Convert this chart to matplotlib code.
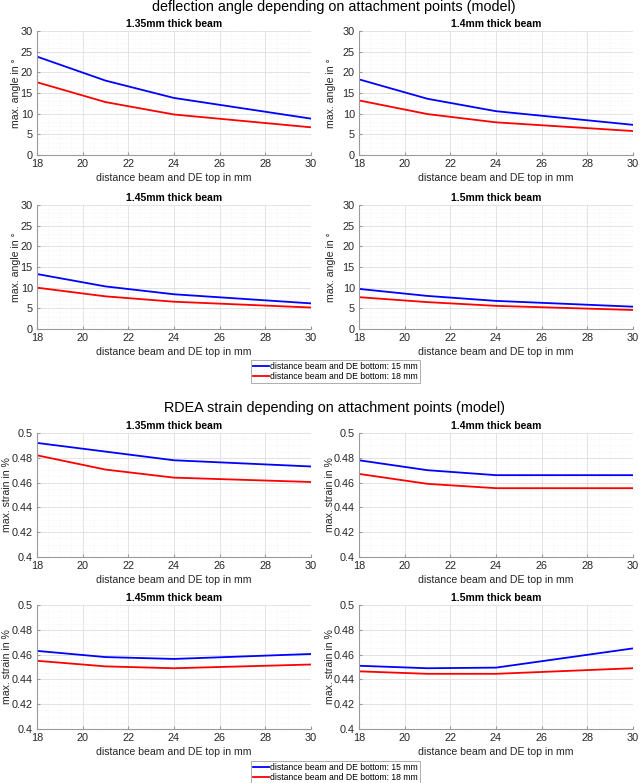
import matplotlib
matplotlib.use("Agg")
import matplotlib.pyplot as plt
from matplotlib.ticker import MultipleLocator, FuncFormatter

plt.rcParams['font.family'] = ['Liberation Sans', 'DejaVu Sans']

# data
dist_top = [18, 21, 24, 30]
beams = ['1.35mm', '1.4mm', '1.45mm', '1.5mm']

angle_15 = [
    [23.8, 18.0, 13.8, 8.8],
    [18.3, 13.6, 10.6, 7.3],
    [13.3, 10.3, 8.4, 6.2],
    [9.7, 8.0, 6.8, 5.4],
]
angle_18 = [
    [17.6, 12.8, 9.8, 6.7],
    [13.2, 9.9, 7.9, 5.8],
    [10.0, 7.9, 6.6, 5.2],
    [7.7, 6.5, 5.6, 4.6],
]
strain_15 = [
    [0.492, 0.485, 0.478, 0.473],
    [0.478, 0.470, 0.466, 0.466],
    [0.463, 0.458, 0.4565, 0.4605],
    [0.451, 0.449, 0.4495, 0.465],
]
strain_18 = [
    [0.482, 0.4705, 0.464, 0.4605],
    [0.467, 0.459, 0.4555, 0.4555],
    [0.455, 0.4505, 0.449, 0.452],
    [0.4465, 0.4445, 0.4445, 0.449],
]
legend_labels = ['distance beam and DE bottom: 15 mm',
                 'distance beam and DE bottom: 18 mm']

W, H = 641, 783
fig = plt.figure(figsize=(W / 100, H / 100), dpi=100)
TXT = '#262626'


def px_axes(left, top, right, bottom):
    return fig.add_axes([left / W, 1 - bottom / H, (right - left) / W, (bottom - top) / H])


def style(ax, ylim, ymaj, ymin):
    ax.set_xlim(18, 30)
    ax.set_ylim(*ylim)
    ax.xaxis.set_major_locator(MultipleLocator(2))
    ax.xaxis.set_minor_locator(MultipleLocator(0.5))
    ax.yaxis.set_major_locator(MultipleLocator(ymaj))
    ax.yaxis.set_minor_locator(MultipleLocator(ymin))
    ax.yaxis.set_major_formatter(FuncFormatter(lambda v, p: '{:g}'.format(round(v, 4))))
    ax.grid(True, which='major', color='#dedede', lw=0.6)
    ax.grid(True, which='minor', color='#f0f0f0', lw=0.5, ls=':')
    ax.set_axisbelow(True)
    for s in ['top', 'right']:
        ax.spines[s].set_visible(False)
    for s in ['left', 'bottom']:
        ax.spines[s].set_color('#9a9a9a')
        ax.spines[s].set_linewidth(0.8)
    ax.tick_params(which='major', direction='in', labelsize=7.8, labelcolor=TXT,
                   color='#9a9a9a', length=2.5, pad=3)
    ax.tick_params(which='minor', length=0)


cols = [(37, 311), (359, 633)]
rows_angle = [(31, 155), (205, 329)]
rows_strain = [(433, 557), (605, 729)]

# right edge (px) of the rotated y label, per column
ylab_x_angle = [21, 336]
ylab_x_strain = [12, 335]

groups = [
    (rows_angle, angle_15, angle_18, (0, 30), 5, 1, 'max. angle in °', ylab_x_angle),
    (rows_strain, strain_15, strain_18, (0.4, 0.5), 0.02, 0.005, 'max. strain in %', ylab_x_strain),
]

for rows, d15, d18, ylim, ymaj, ymin, ylab, ylx in groups:
    for i in range(4):
        r, c = divmod(i, 2)
        left, right = cols[c]
        ax = px_axes(left, rows[r][0], right, rows[r][1])
        l1, = ax.plot(dist_top, d15[i], color='#0000ff', lw=1.3)
        l2, = ax.plot(dist_top, d18[i], color='#ff0000', lw=1.3)
        style(ax, ylim, ymaj, ymin)
        ax.set_title(beams[i] + ' thick beam', fontsize=7.5, fontweight='bold', pad=3)
        ax.set_xlabel('distance beam and DE top in mm', fontsize=7.6, labelpad=3, color=TXT)
        ax.set_ylabel(ylab, fontsize=7.6, color=TXT)
        ax.yaxis.set_label_coords((ylx[c] - left) / (right - left), 0.5)

fig.text(334 / W, 1 - 7 / H, 'deflection angle depending on attachment points (model)',
         ha='center', va='center', fontsize=10.4)
fig.text(334 / W, 1 - 408 / H, 'RDEA strain depending on attachment points (model)',
         ha='center', va='center', fontsize=10.4)

for y_top, y_bot in [(361, 382), (762, 783)]:
    leg = fig.legend([l1, l2], legend_labels, loc='center',
                     bbox_to_anchor=(335.5 / W, 1 - (y_top + y_bot) / 2 / H),
                     fontsize=6.2, frameon=True, fancybox=False, handlelength=1.8,
                     handletextpad=0.2, borderpad=0.2, labelspacing=0.1,
                     edgecolor='#888888', borderaxespad=0)
    leg.get_frame().set_linewidth(0.6)

fig.savefig('out.png', dpi=100)
